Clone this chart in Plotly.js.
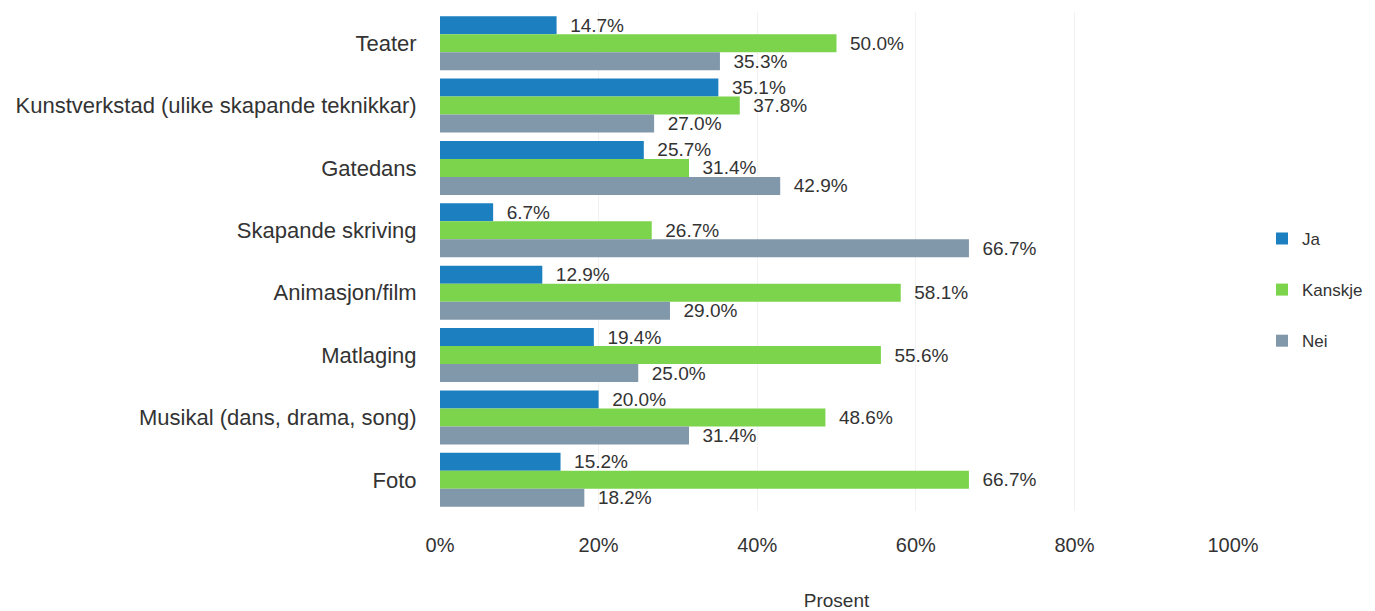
<!DOCTYPE html>
<html>
<head>
<meta charset="utf-8">
<script src="https://cdn.plot.ly/plotly-3.0.1.min.js"></script>
<style>html,body{margin:0;padding:0;background:#fff;}#chart{width:1375px;height:611px;}</style>
</head>
<body>
<div id="chart"></div>
<script>
const categories = ["Teater", "Kunstverkstad (ulike skapande teknikkar)", "Gatedans", "Skapande skriving", "Animasjon/film", "Matlaging", "Musikal (dans, drama, song)", "Foto"];
const ja = [14.7, 35.1, 25.7, 6.7, 12.9, 19.4, 20.0, 15.2];
const kanskje = [50.0, 37.8, 31.4, 26.7, 58.1, 55.6, 48.6, 66.7];
const nei = [35.3, 27.0, 42.9, 66.7, 29.0, 25.0, 31.4, 18.2];
const tickVals = [0, 20, 40, 60, 80, 100];
const tickText = ["0%", "20%", "40%", "60%", "80%", "100%"];

const FONT = "Liberation Sans, Arial, sans-serif";
function mk(name, vals, color, group) {
  return {
    type: "bar", orientation: "h", name: name, x: vals, y: categories,
    marker: {color: color},
    text: vals.map(v => "\u00a0\u00a0" + v.toFixed(1) + "%"),
    textposition: "outside", cliponaxis: false, constraintext: "none",
    textfont: {family: FONT, size: 19, color: "#333"},
    legendgroup: group, hoverinfo: "x+y"
  };
}
const data = [
  mk("Ja", ja, "#1b7fc0", "a"),
  mk("Kanskje", kanskje, "#7bd44b", "b"),
  mk("Nei", nei, "#8197aa", "c")
];
const layout = {
  width: 1375, height: 611,
  margin: {l: 440, r: 142, t: 12, b: 100, autoexpand: false},
  paper_bgcolor: "#fff", plot_bgcolor: "#fff",
  barmode: "group", bargap: 0.135, bargroupgap: 0,
  font: {family: FONT, size: 18, color: "#333"},
  xaxis: {
    range: [0, 100], tickvals: tickVals, ticktext: tickText,
    showgrid: true, gridcolor: "#f1f1f1", zeroline: false,
    ticks: "outside", ticklen: 16, tickcolor: "rgba(0,0,0,0)",
    tickfont: {size: 20, color: "#333"},
    title: {text: "Prosent", font: {size: 19, color: "#333"}, standoff: 38}
  },
  yaxis: {
    autorange: "reversed", showgrid: false, zeroline: false,
    ticks: "outside", ticklen: 18, tickcolor: "rgba(0,0,0,0)",
    tickfont: {size: 22, color: "#333"}
  },
  showlegend: true,
  legend: {x: 1.0366, xanchor: "left", y: 0.443, yanchor: "middle",
    font: {size: 17, color: "#333"}, tracegroupgap: 26, itemwidth: 30, traceorder: "grouped"}
};
Plotly.newPlot("chart", data, layout, {displayModeBar: false, staticPlot: true});
</script>
</body>
</html>
